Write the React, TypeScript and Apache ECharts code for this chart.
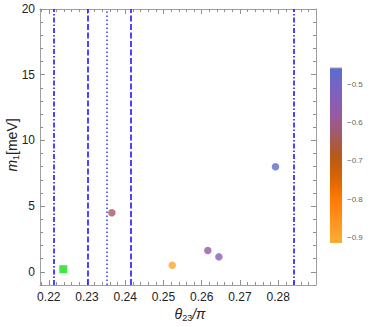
import React, { useEffect, useRef } from "react";
import * as echarts from "echarts";

// ---- data ----
const pointX = [0.2365, 0.2523, 0.2616, 0.2645, 0.2793];
const pointY = [4.5, 0.5, 1.62, 1.14, 8.0];
const pointC = [-0.635, -0.9, -0.58, -0.55, -0.47];
const squareX = [0.2238];
const squareY = [0.2];
const dashDotLines = [0.2214, 0.2842];
const dashedLines = [0.2302, 0.2414];
const dottedLines = [0.2352];
const xMajor = [0.22, 0.23, 0.24, 0.25, 0.26, 0.27, 0.28];
const xMinor = [0.218, 0.222, 0.224, 0.226, 0.228, 0.232, 0.234, 0.236, 0.238, 0.242, 0.244, 0.246, 0.248, 0.252, 0.254, 0.256, 0.258, 0.262, 0.264, 0.266, 0.268, 0.272, 0.274, 0.276, 0.278, 0.282, 0.284, 0.286, 0.288];
const yMajor = [0, 5, 10, 15, 20];
const yMinor = [-1, 1, 2, 3, 4, 6, 7, 8, 9, 11, 12, 13, 14, 16, 17, 18, 19];
const cbTicks = [-0.9, -0.8, -0.7, -0.6, -0.5];
const cbMin = -0.914;
const cbMax = -0.458;
// colours from low (bottom) to high (top), evenly spaced
const cbColors = ["#f9ae30", "#fe9420", "#ff7a00", "#d96400", "#b45a1a", "#a35a6c", "#955aa8", "#7a62c0", "#5a6ed0"];

const X_MIN = 0.2177;
const X_MAX = 0.2899;
const Y_MIN = -1;
const Y_MAX = 20;

const FRAME = "#a0a0a0";
const TICK = "#909090";
const FONT = "'Liberation Sans', Arial, sans-serif";

function xAx(position: string, ticks: number[], len: number, labels: boolean, showLine: boolean) {
  return {
    type: "value",
    gridIndex: 0,
    position,
    min: X_MIN,
    max: X_MAX,
    axisLine: { show: showLine, onZero: false, lineStyle: { color: FRAME, width: 1 } },
    axisTick: { show: true, inside: true, length: len, customValues: ticks, lineStyle: { color: TICK, width: 1 } },
    axisLabel: labels
      ? { show: true, customValues: xMajor, formatter: (v: number) => v.toFixed(2), color: "#222", fontSize: 12, fontFamily: FONT, margin: 6 }
      : { show: false },
    splitLine: { show: false },
  };
}
function yAx(position: string, ticks: number[], len: number, labels: boolean, showLine: boolean) {
  return {
    type: "value",
    gridIndex: 0,
    position,
    min: Y_MIN,
    max: Y_MAX,
    axisLine: { show: showLine, onZero: false, lineStyle: { color: FRAME, width: 1 } },
    axisTick: { show: true, inside: true, length: len, customValues: ticks, lineStyle: { color: TICK, width: 1 } },
    axisLabel: labels
      ? { show: true, customValues: yMajor, formatter: (v: number) => String(Math.round(v)), color: "#222", fontSize: 12, fontFamily: FONT, margin: 5 }
      : { show: false },
    splitLine: { show: false },
  };
}

export default function App() {
  const ref = useRef<HTMLDivElement>(null);
  useEffect(() => {
    if (!ref.current) return;
    const chart = echarts.init(ref.current, undefined, { renderer: "svg" });

    const lineData: any[] = [];
    dashDotLines.forEach((x) =>
      lineData.push({ xAxis: x, lineStyle: { color: "#1a1aff", width: 1.6, type: [5, 2, 1.5, 2] } })
    );
    dashedLines.forEach((x) =>
      lineData.push({ xAxis: x, lineStyle: { color: "#1a1aff", width: 1.6, type: [6, 2.5] } })
    );
    dottedLines.forEach((x) =>
      lineData.push({ xAxis: x, lineStyle: { color: "#3535ff", width: 1.5, type: [1.5, 2.5] } })
    );

    const gradStops = cbColors
      .slice()
      .reverse()
      .map((c, i) => ({ offset: i / (cbColors.length - 1), color: c }));

    chart.setOption({
      animation: false,
      grid: [
        { left: 40, top: 9, width: 276, height: 276 },
        { left: 330, top: 68, width: 12, height: 175 },
      ],
      xAxis: [
        xAx("bottom", xMajor, 5, true, true),
        xAx("top", xMajor, 5, false, true),
        xAx("bottom", xMinor, 3, false, false),
        xAx("top", xMinor, 3, false, false),
        { type: "value", gridIndex: 1, min: 0, max: 1, show: false },
      ],
      yAxis: [
        yAx("left", yMajor, 5, true, true),
        yAx("right", yMajor, 5, false, true),
        yAx("left", yMinor, 3, false, false),
        yAx("right", yMinor, 3, false, false),
        {
          type: "value",
          gridIndex: 1,
          position: "right",
          min: cbMin,
          max: cbMax,
          axisLine: { show: false },
          axisTick: { show: false },
          splitLine: { show: false },
          axisLabel: {
            show: true,
            customValues: cbTicks,
            formatter: (v: number) => v.toFixed(1).replace("-", "\u2212"),
            color: "#666",
            fontSize: 8,
            fontFamily: FONT,
            margin: 5,
          },
        },
      ],
      visualMap: {
        show: false,
        type: "continuous",
        seriesIndex: 0,
        dimension: 2,
        min: cbMin,
        max: cbMax,
        inRange: { color: cbColors },
      },
      series: [
        {
          type: "scatter",
          xAxisIndex: 0,
          yAxisIndex: 0,
          symbol: "circle",
          symbolSize: 7.5,
          data: pointX.map((x, i) => [x, pointY[i], pointC[i]]),
        },
        {
          type: "scatter",
          xAxisIndex: 0,
          yAxisIndex: 0,
          symbol: "rect",
          symbolSize: 8,
          itemStyle: { color: "#14e014" },
          data: squareX.map((x, i) => [x, squareY[i]]),
          markLine: {
            silent: true,
            symbol: "none",
            precision: 6,
            label: { show: false },
            data: lineData,
          },
        },
        {
          type: "custom",
          xAxisIndex: 4,
          yAxisIndex: 4,
          data: [[0, cbMin, cbMax]],
          renderItem: (_params: any, api: any) => {
            const p0 = api.coord([0, api.value(2)]);
            const p1 = api.coord([1, api.value(1)]);
            return {
              type: "group",
              children: [
                {
                  type: "rect",
                  shape: { x: p0[0], y: p0[1], width: p1[0] - p0[0], height: p1[1] - p0[1] },
                  style: { fill: new echarts.graphic.LinearGradient(0, 0, 0, 1, gradStops) },
                },
                {
                  type: "line",
                  shape: { x1: p0[0], y1: p0[1], x2: p1[0], y2: p0[1] },
                  style: { stroke: "#9aa0c8", lineWidth: 1 },
                },
              ],
            };
          },
        },
      ],
      graphic: [
        {
          type: "text",
          x: 190,
          y: 314,
          style: {
            text: "{i|θ}{s|23}{n|/π}",
            align: "center",
            verticalAlign: "middle",
            fill: "#222",
            rich: {
              i: { fontSize: 14, fontStyle: "italic", fontFamily: FONT, fill: "#222" },
              s: { fontSize: 9, fontFamily: FONT, fill: "#222", padding: [7, 0, 0, 0] },
              n: { fontSize: 14, fontStyle: "italic", fontFamily: FONT, fill: "#222" },
            },
          },
        },
        {
          type: "text",
          x: 12,
          y: 145,
          rotation: Math.PI / 2,
          style: {
            text: "{i|m}{s|1}{n|[meV]}",
            align: "center",
            verticalAlign: "middle",
            fill: "#222",
            rich: {
              i: { fontSize: 14, fontStyle: "italic", fontFamily: FONT, fill: "#222" },
              s: { fontSize: 9, fontFamily: FONT, fill: "#222", padding: [7, 0, 0, 0] },
              n: { fontSize: 14, fontFamily: FONT, fill: "#222" },
            },
          },
        },
      ],
    });
    return () => chart.dispose();
  }, []);
  return (
    <div
      ref={ref}
      style={{ position: "fixed", left: 0, top: 0, width: 371, height: 327, background: "#fff" }}
    />
  );
}
